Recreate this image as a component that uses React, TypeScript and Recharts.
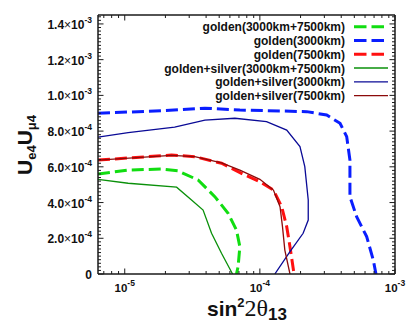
import React from 'react';
import { LineChart, Line, XAxis, YAxis } from 'recharts';

// ---------- axes ----------
const X_DOMAIN: [number, number] = [6.34e-6, 1e-3];
const Y_DOMAIN: [number, number] = [0, 1.45e-3];

const xMajorTicks = [1e-5, 1e-4, 1e-3];
const xMajorExp = ['-5', '-4', '-3'];
const xMinorTicks = [
  7e-6, 8e-6, 9e-6,
  2e-5, 3e-5, 4e-5, 5e-5, 6e-5, 7e-5, 8e-5, 9e-5,
  2e-4, 3e-4, 4e-4, 5e-4, 6e-4, 7e-4, 8e-4, 9e-4,
];

const yMajorTicks = [0, 2e-4, 4e-4, 6e-4, 8e-4, 1e-3, 1.2e-3, 1.4e-3];
const yMajorMantissa = ['0', '2.0', '4.0', '6.0', '8.0', '1.0', '1.2', '1.4'];
const yMajorExp = ['', '-4', '-4', '-4', '-4', '-3', '-3', '-3'];
const yMinorStep = 2e-5;
const yMinorTicks: number[] = [];
for (let i = 1; i * yMinorStep < Y_DOMAIN[1]; i++) {
  if (i % 10 !== 0) yMinorTicks.push(i * yMinorStep);
}

// ---------- series ----------
const goldenBothX = [6.34e-6, 1.06e-5, 1.87e-5, 2.47e-5, 3.49e-5, 4.64e-5, 5.82e-5, 6.71e-5, 7.11e-5, 6.9e-5, 6.71e-5];
const goldenBothY = [5.6e-4, 5.82e-4, 5.88e-4, 5.78e-4, 5.26e-4, 4.33e-4, 3.4e-4, 2.46e-4, 1.53e-4, 4.1e-5, 0];

const golden3000X = [6.34e-6, 1.87e-5, 3.92e-5, 7.11e-5, 2.22e-4, 3.12e-4, 3.92e-4, 4.39e-4, 4.64e-4, 4.64e-4, 5.2e-4, 6.17e-4, 6.91e-4, 7.23e-4];
const golden3000Y = [9.0e-4, 9.14e-4, 9.28e-4, 9.18e-4, 9.09e-4, 8.9e-4, 8.44e-4, 7.69e-4, 6.38e-4, 4.33e-4, 3.21e-4, 2.09e-4, 7.8e-5, 0];

const golden7500X = [6.34e-6, 2.22e-5, 3.3e-5, 5.2e-5, 7.74e-5, 1e-4, 1.26e-4, 1.45e-4, 1.58e-4, 1.67e-4, 1.79e-4];
const golden7500Y = [6.38e-4, 6.66e-4, 6.57e-4, 6.2e-4, 5.54e-4, 5.17e-4, 4.7e-4, 3.77e-4, 2.65e-4, 1.53e-4, 0];

const gsBothX = [6.34e-6, 1.06e-5, 2.42e-5, 3.12e-5, 3.8e-5, 4.39e-5, 5.2e-5, 6.28e-5];
const gsBothY = [5.3e-4, 5.08e-4, 4.86e-4, 4.14e-4, 3.58e-4, 2.28e-4, 1.16e-4, 0];

const gs3000X = [6.34e-6, 1.06e-5, 2.34e-5, 3.92e-5, 6.53e-5, 1.12e-4, 1.58e-4, 1.98e-4, 2.15e-4, 2.28e-4, 2.28e-4, 2.09e-4, 1.67e-4, 1.29e-4];
const gs3000Y = [7.66e-4, 7.91e-4, 8.22e-4, 8.62e-4, 8.72e-4, 8.53e-4, 8.06e-4, 7.13e-4, 6.01e-4, 4.14e-4, 3.02e-4, 2.28e-4, 1.25e-4, 0];

const gs7500X = [6.34e-6, 2.22e-5, 3.3e-5, 5.2e-5, 7.11e-5, 1e-4, 1.26e-4, 1.41e-4, 1.47e-4, 1.53e-4, 1.67e-4];
const gs7500Y = [6.38e-4, 6.64e-4, 6.57e-4, 6.22e-4, 5.82e-4, 5.3e-4, 4.7e-4, 3.77e-4, 2.65e-4, 1.34e-4, 0];

const seriesNames = [
  'golden(3000km+7500km)',
  'golden(3000km)',
  'golden(7500km)',
  'golden+silver(3000km+7500km)',
  'golden+silver(3000km)',
  'golden+silver(7500km)',
];
const seriesColors = ['#11dd11', '#0a1eff', '#ff1010', '#0a900a', '#0a0a96', '#8c0a0a'];
const seriesDashed = [true, true, true, false, false, false];
const seriesXs = [goldenBothX, golden3000X, golden7500X, gsBothX, gs3000X, gs7500X];
const seriesYs = [goldenBothY, golden3000Y, golden7500Y, gsBothY, gs3000Y, gs7500Y];

const seriesData = seriesXs.map((xs, i) => xs.map((x, j) => ({ x, y: seriesYs[i][j] })));

// ---------- styles ----------
const FONT = '"Liberation Sans", Arial, Helvetica, sans-serif';
const FRAME = '#1a1a1a';
const MAJOR = 5.5;
const MINOR = 3;

const isIn = (v: number, list: number[]) => list.findIndex((m) => Math.abs(v - m) <= Math.max(Math.abs(m) * 1e-6, 1e-12));

const BottomTick = (props: any) => {
  const { x, y, payload } = props;
  const idx = isIn(payload.value, xMajorTicks);
  const len = idx >= 0 ? MAJOR : MINOR;
  return (
    <g>
      <line x1={x} x2={x} y1={y} y2={y - len} stroke={FRAME} strokeWidth={1} />
      {idx >= 0 && (
        <text x={x} y={y + 18} textAnchor="middle" fontFamily={FONT} fontWeight="bold" fontSize={11.5} fill="#111">
          <tspan>10</tspan>
          <tspan dy={-6} fontSize={8.5}>{xMajorExp[idx]}</tspan>
        </text>
      )}
    </g>
  );
};

const TopTick = (props: any) => {
  const { x, y, payload } = props;
  const idx = isIn(payload.value, xMajorTicks);
  const len = idx >= 0 ? MAJOR : MINOR;
  return <line x1={x} x2={x} y1={y} y2={y + len} stroke={FRAME} strokeWidth={1} />;
};

const LeftTick = (props: any) => {
  const { x, y, payload } = props;
  const idx = isIn(payload.value, yMajorTicks);
  const len = idx >= 0 ? MAJOR : MINOR;
  return (
    <g>
      <line x1={x} x2={x + len} y1={y} y2={y} stroke={FRAME} strokeWidth={1} />
      {idx >= 0 && (
        <text x={x - 6} y={y + 5} textAnchor="end" fontFamily={FONT} fontWeight="bold" fontSize={12} fill="#111">
          <tspan>{yMajorMantissa[idx]}</tspan>
          {yMajorExp[idx] !== '' && <tspan fontWeight="normal">×</tspan>}
          {yMajorExp[idx] !== '' && <tspan>10</tspan>}
          {yMajorExp[idx] !== '' && <tspan dy={-6} fontSize={8.5}>{yMajorExp[idx]}</tspan>}
        </text>
      )}
    </g>
  );
};

const RightTick = (props: any) => {
  const { x, y, payload } = props;
  const idx = isIn(payload.value, yMajorTicks);
  const len = idx >= 0 ? MAJOR : MINOR;
  return <line x1={x} x2={x - len} y1={y} y2={y} stroke={FRAME} strokeWidth={1} />;
};

const xTicks = [...xMinorTicks, ...xMajorTicks].sort((a, b) => a - b);
const yTicks = [...yMinorTicks, ...yMajorTicks].sort((a, b) => a - b);

const legendRowY = [26.7, 40.5, 54.3, 68, 81.8, 95.6];

export default function App() {
  return (
    <div style={{ position: 'absolute', left: 0, top: 0, width: 409, height: 326, background: '#fff' }}>
      <LineChart width={409} height={326} margin={{ top: 14, right: 13, bottom: 22, left: 0 }}>
        <XAxis
          xAxisId={0}
          dataKey="x"
          type="number"
          scale="log"
          domain={X_DOMAIN}
          allowDataOverflow
          ticks={xTicks}
          interval={0}
          height={30}
          tickSize={0}
          tickMargin={0}
          tickLine={false}
          axisLine={{ stroke: FRAME, strokeWidth: 1.5 }}
          tick={BottomTick}
        />
        <XAxis
          xAxisId="top"
          orientation="top"
          dataKey="x"
          type="number"
          scale="log"
          domain={X_DOMAIN}
          allowDataOverflow
          ticks={xTicks}
          interval={0}
          height={1}
          tickSize={0}
          tickMargin={0}
          tickLine={false}
          axisLine={{ stroke: FRAME, strokeWidth: 1.5 }}
          tick={TopTick}
        />
        <YAxis
          yAxisId={0}
          type="number"
          domain={Y_DOMAIN}
          allowDataOverflow
          ticks={yTicks}
          interval={0}
          width={98}
          tickSize={0}
          tickMargin={0}
          tickLine={false}
          axisLine={{ stroke: FRAME, strokeWidth: 1.5 }}
          tick={LeftTick}
        />
        <YAxis
          yAxisId="right"
          orientation="right"
          type="number"
          domain={Y_DOMAIN}
          allowDataOverflow
          ticks={yTicks}
          interval={0}
          width={1}
          tickSize={0}
          tickMargin={0}
          tickLine={false}
          axisLine={{ stroke: FRAME, strokeWidth: 1.5 }}
          tick={RightTick}
        />
        {seriesData.map((d, i) => (
          <Line
            key={seriesNames[i]}
            data={d}
            dataKey="y"
            name={seriesNames[i]}
            type="linear"
            stroke={seriesColors[i]}
            strokeWidth={seriesDashed[i] ? 3 : 1.3}
            strokeDasharray={seriesDashed[i] ? '12 5' : undefined}
            dot={false}
            activeDot={false}
            isAnimationActive={false}
          />
        ))}
      </LineChart>
      <svg
        width={409}
        height={326}
        style={{ position: 'absolute', left: 0, top: 0, pointerEvents: 'none' }}
      >
        {seriesNames.map((n, i) => (
          <g key={n}>
            <text x={345} y={legendRowY[i] + 4.5} textAnchor="end" fontFamily={FONT} fontWeight="bold" fontSize={12} fill="#111">
              {n}
            </text>
            <line
              x1={354}
              x2={seriesDashed[i] ? 384 : 388}
              y1={legendRowY[i]}
              y2={legendRowY[i]}
              stroke={seriesColors[i]}
              strokeWidth={seriesDashed[i] ? 3 : 1.3}
              strokeDasharray={seriesDashed[i] ? '12.5 5' : undefined}
            />
          </g>
        ))}
        <text x={247} y={316} textAnchor="middle" fill="#111">
          <tspan fontFamily={FONT} fontWeight="bold" fontSize={21}>sin</tspan>
          <tspan fontFamily={FONT} fontWeight="bold" fontSize={13} dy={-9}>2</tspan>
          <tspan fontFamily='"Liberation Serif", "Times New Roman", serif' fontSize={24} dy={9}>2θ</tspan>
          <tspan fontFamily={FONT} fontWeight="bold" fontSize={17} dy={4}>13</tspan>
        </text>
        <text transform="translate(32,145) rotate(-90)" x={0} y={0} textAnchor="middle" fill="#111" fontFamily={FONT} fontWeight="bold">
          <tspan fontSize={21}>U</tspan>
          <tspan fontSize={13} dy={4}>e4</tspan>
          <tspan fontSize={21} dy={-4}>U</tspan>
          <tspan fontSize={13} dy={4}>μ4</tspan>
        </text>
      </svg>
    </div>
  );
}
